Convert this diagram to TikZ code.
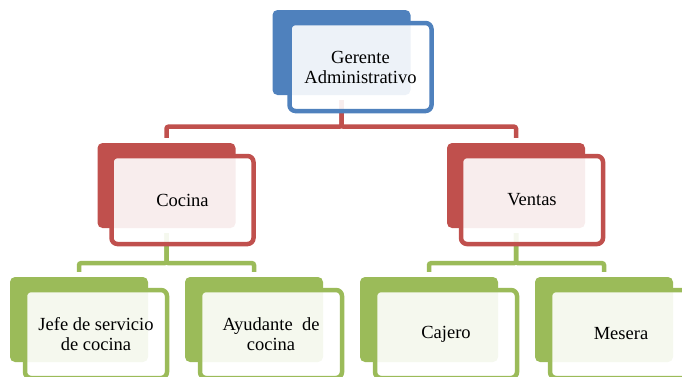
\documentclass[tikz,border=0pt]{standalone}
\usepackage{fontspec}
\setmainfont{Liberation Serif}
\definecolor{cblue}{HTML}{4F81BD}
\definecolor{cred}{HTML}{C0504D}
\definecolor{cgreen}{HTML}{9BBB59}
\begin{document}
\begin{tikzpicture}[x=1pt,y=-1pt,
  back/.style={draw=none, rounded corners=5pt, minimum width=138pt, minimum height=85pt, inner sep=0pt},
  front/.style={rounded corners=6pt, line width=4.5pt, fill=white, fill opacity=0.9, text opacity=1,
    minimum width=142pt, minimum height=88pt, inner sep=0pt, align=center,
    font=\fontsize{18.5}{20}\selectfont},
  link/.style={line width=4.5pt, shorten <=5pt, shorten >=5pt, rounded corners=2pt}]
\useasboundingbox (0,0) rectangle (682,376);
\clip (0,0) rectangle (682,376);
% back rectangles
\node[back, fill=cblue]  (gb) at (341.5,52.5) {};
\node[back, fill=cred]   (cb) at (166.5,185.5) {};
\node[back, fill=cred]   (vb) at (516,185.5) {};
\node[back, fill=cgreen] (jb) at (79,319.5) {};
\node[back, fill=cgreen] (ab) at (254,319.5) {};
\node[back, fill=cgreen] (kb) at (429,319.5) {};
\node[back, fill=cgreen] (mb) at (604,319.5) {};
% connectors
\draw[link, cred] (gb.south) -- ++(0,31.5) -| (cb.north);
\draw[link, cred] (gb.south) -- ++(0,31.5) -| (vb.north);
\draw[link, cgreen] (cb.south) -- ++(0,35) -| (jb.north);
\draw[link, cgreen] (cb.south) -- ++(0,35) -| (ab.north);
\draw[link, cgreen] (vb.south) -- ++(0,35) -| (kb.north);
\draw[link, cgreen] (vb.south) -- ++(0,35) -| (mb.north);
% front boxes
\node[front, draw=cblue]  (g) at (360.5,67) {Gerente\\Administrativo};
\node[front, draw=cred]   (c) at (182.5,200) {Cocina};
\node[front, draw=cred]   (v) at (532,200) {Ventas};
\node[front, draw=cgreen] (j) at (96,334) {Jefe de servicio\\de cocina};
\node[front, draw=cgreen] (a) at (271,334) {Ayudante\ \ de\\cocina};
\node[front, draw=cgreen] (k) at (446,334) {Cajero};
\node[front, draw=cgreen] (m) at (621,334) {Mesera};
\end{tikzpicture}
\end{document}
